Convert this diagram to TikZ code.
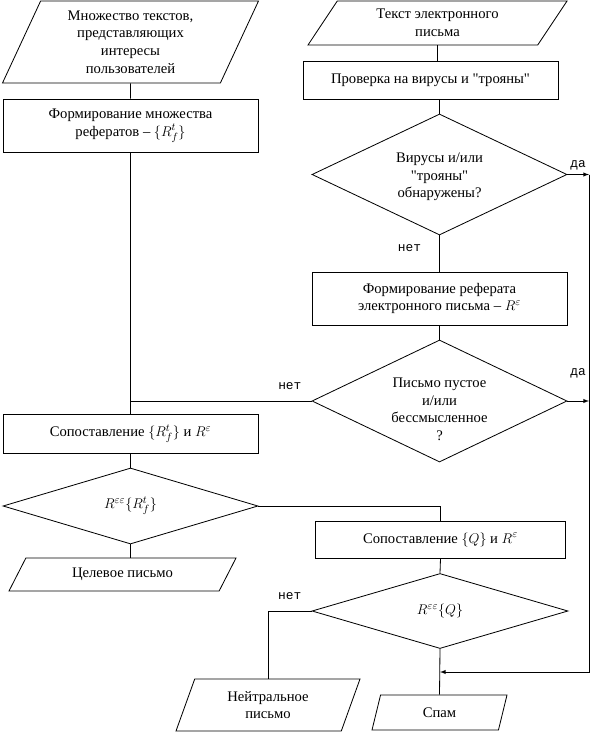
\documentclass[tikz,border=0pt]{standalone}
\usepackage{fontspec}
\setmainfont{Liberation Serif}
\newfontfamily\answerfont{Liberation Mono}
\usetikzlibrary{shapes.geometric,arrows.meta,calc}
% text set lower in its node, the node keeps its size
\newcommand{\lowertext}[2]{\raisebox{-#1}[\height][\depth]{\begin{tabular}{@{}c@{}}#2\end{tabular}}}
\tikzset{
  line/.style={line width=0.7pt},
  flow/.style={line width=0.7pt,-latex},
  block/.style n args={2}{draw,line width=0.7pt,rectangle,align=center,inner sep=0pt,
    minimum width=#1*0.03cm,minimum height=#2*0.03cm},
  decision/.style n args={2}{draw,line width=0.7pt,diamond,aspect=2,align=center,inner sep=0pt,
    minimum width=#1*0.03cm,minimum height=#2*0.03cm},
  io/.style n args={3}{draw,line width=0.7pt,trapezium,trapezium left angle=#3,
    trapezium right angle={180-#3},trapezium stretches body,align=center,inner sep=0pt,
    minimum width=#1*0.03cm,minimum height=#2*0.03cm},
  answer/.style={font=\answerfont\fontsize{11}{13}\selectfont}
}
\begin{document}
\begin{tikzpicture}[x=0.03cm,y=-0.03cm,font=\fontsize{12.5}{15}\selectfont]
  \useasboundingbox (0,0) rectangle (591,733);

  % left column
  \node[io={256}{82}{58.6}] (users) at (130.5,42) {Множество текстов,\\ представляющих\\ интересы\\ пользователей};
  \node[block={255}{53}] (abstracts) at (130.5,125.5) {Формирование множества\\ рефератов -- $\{R_f^t\}$};
  \node[block={255}{39}] (matchT) at (130.5,433.5) {Сопоставление $\{R_f^t\}$ и $R^\varepsilon$};
  \node[decision={255}{76}] (isTarget) at (130.5,506) {$R^{\varepsilon\varepsilon}\{R_f^t\}$};
  \node[io={227}{33}{37}] (target) at (122.5,574.5) {Целевое письмо};

  % right column
  \node[io={259}{44}{43}] (mail) at (437.5,23) {Текст электронного\\ письма};
  \node[block={255}{38}] (scan) at (430.5,80) {Проверка на вирусы и \textquotedbl трояны\textquotedbl};
  \node[decision={255}{121}] (virus) at (439.5,174.5) {\lowertext{2pt}{Вирусы и/или\\ \textquotedbl трояны\textquotedbl\\ обнаружены?}};
  \node[block={255}{53}] (mailabs) at (439.5,298.5) {Формирование реферата\\ электронного письма -- $R^\varepsilon$};
  \node[decision={255}{122}] (empty) at (439.5,401) {\lowertext{8pt}{Письмо пустое\\ и/или\\ бессмысленное\\ ?}};
  \node[block={250}{37}] (matchQ) at (440.5,539.5) {Сопоставление $\{Q\}$ и $R^\varepsilon$};
  \node[decision={256}{75}] (isSpam) at (440,611) {$R^{\varepsilon\varepsilon}\{Q\}$};
  \node[io={184}{52}{56}] (neutral) at (268,705) {Нейтральное\\ письмо};
  \node[io={135}{35}{49}] (spam) at (439.5,712.5) {Спам};

  \coordinate (yes1) at (589,174.5);
  \coordinate (yes2) at (589,401);
  \coordinate (back) at (589,672);

  % connectors
  \draw[line] (users.south) -- (abstracts.north);
  \draw[line] (abstracts.south) -- (matchT.north);
  \draw[line] (matchT.south) -- (isTarget.north);
  \draw[line] (isTarget.south) -- (isTarget.south |- target.north);
  \draw[line] (isTarget.east) -| (matchQ.north);
  \draw[line] (mail.south) -- (mail.south |- scan.north);
  \draw[line] (scan.south -| virus.north) -- (virus.north);
  \draw[line] (virus.south) -- (mailabs.north) node[answer,pos=0.35,left=0.42cm] {нет};
  \draw[line] (mailabs.south) -- (empty.north);
  \draw[line] (empty.west) -- (empty.west -| abstracts.south) node[answer,pos=0.12,above=0.2cm] {нет};
  \draw[flow] (virus.east) -- (yes1) node[answer,midway,above] {да};
  \draw[flow] (empty.east) -- (yes2) node[answer,midway,above=0.55cm] {да};
  \draw[flow] (yes1) -- (back) -- (back -| isSpam.south);
  \draw[line] (matchQ.south) -- (isSpam.north);
  \draw[line] (isSpam.south) -- (spam.north);
  \draw[line] (isSpam.west) -| (neutral.north) node[answer,pos=0.25,above=0.2cm] {нет};
\end{tikzpicture}
\end{document}
